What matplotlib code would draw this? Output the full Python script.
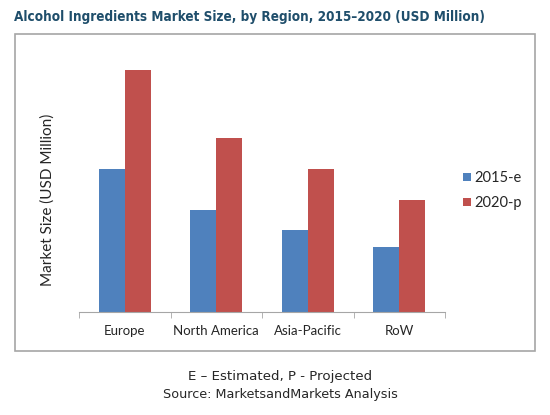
import matplotlib
matplotlib.use("Agg")
import matplotlib.pyplot as plt
import numpy as np
from matplotlib.patches import Rectangle

regions = ["Europe", "North America", "Asia-Pacific", "RoW"]
series_names = ["2015-e", "2020-p"]
values_2015 = [143.4, 102.4, 82.4, 65.0]
values_2020 = [242.4, 174.0, 142.7, 112.4]
colors = ["#4F81BD", "#C0504D"]

W, H = 550, 415
fig = plt.figure(figsize=(W / 100, H / 100), dpi=100)

# outer gray frame
fig.patches.append(Rectangle((15 / W, 1 - 351 / H), (535 - 15) / W, (351 - 34) / H,
                             transform=fig.transFigure, fill=False,
                             edgecolor="#A6A6A6", linewidth=1.2))

ax = fig.add_axes([79 / W, 1 - 312 / H, (445 - 79) / W, 260 / H])
x = np.arange(len(regions))
bw = 0.285
ax.bar(x - bw / 2, values_2015, bw, color=colors[0], label=series_names[0])
ax.bar(x + bw / 2, values_2020, bw, color=colors[1], label=series_names[1])
ax.set_xlim(-0.5, len(regions) - 0.5)
ax.set_ylim(0, 260)
for s in ["top", "right", "left"]:
    ax.spines[s].set_visible(False)
ax.spines["bottom"].set_color("#A6A6A6")
ax.set_yticks([])
ax.set_xticks(x)
ax.set_xticklabels(regions, fontsize=9.5, color="#262626", family="Lato")
ax.tick_params(axis="x", which="major", length=0, pad=9)
ax.set_xticks(np.arange(-0.5, len(regions)), minor=True)
ax.tick_params(axis="x", which="minor", length=4, color="#A6A6A6", direction="out")
ax.patch.set_alpha(0)

fig.text(48 / W, 1 - 200 / H, "Market Size (USD Million)", rotation=90,
         ha="center", va="center", fontsize=11, color="#262626", family="Lato")

leg = ax.legend(loc="upper left", bbox_to_anchor=(450 / W, 1 - 158 / H),
                bbox_transform=fig.transFigure, frameon=False,
                handlelength=0.55, handleheight=0.55, handletextpad=0.25,
                labelspacing=0.75, prop={"family": "Lato", "size": 10.5})
for t in leg.get_texts():
    t.set_color("#262626")

fig.text(14 / W, 1 - 17 / H, "Alcohol Ingredients Market Size, by Region, 2015\u20132020 (USD Million)",
         ha="left", va="center", fontsize=9.75, fontweight="bold", color="#1F4E6B",
         family="DejaVu Sans", fontstretch="condensed")

fig.text(280 / W, 1 - 376 / H, "E \u2013 Estimated, P - Projected", ha="center", va="center",
         fontsize=9.6, color="#262626", family="DejaVu Sans")
fig.text(280 / W, 1 - 394 / H, "Source: MarketsandMarkets Analysis", ha="center", va="center",
         fontsize=9.2, color="#262626", family="DejaVu Sans")

fig.savefig("out.png", dpi=100, facecolor="white")
